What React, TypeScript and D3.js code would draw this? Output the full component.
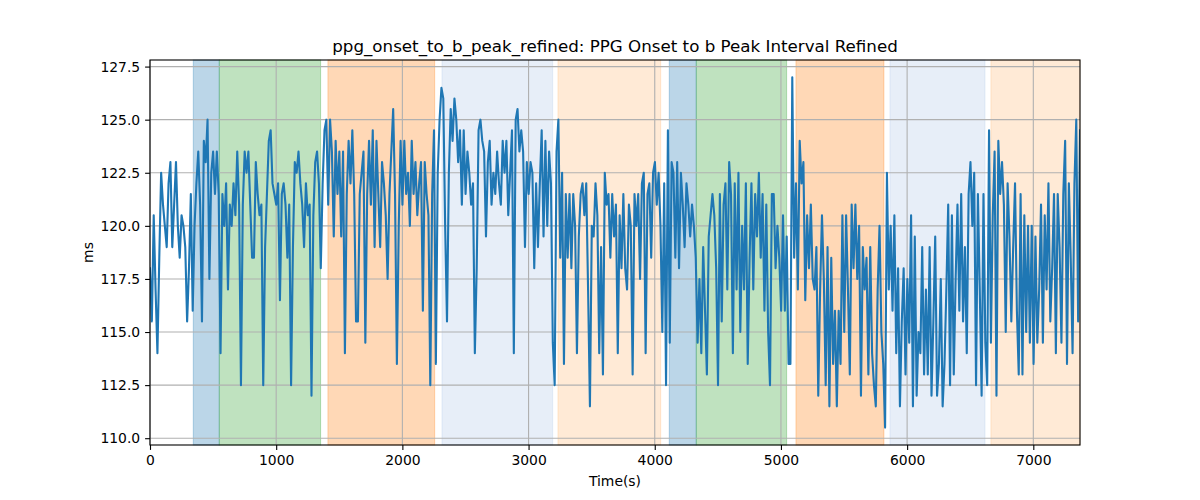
import { useEffect, useRef } from 'react';
import * as d3 from 'd3';

// refined onset -> b peak interval, one value every SAMPLE_STEP seconds
const SAMPLE_STEP = 7370 / 501;

const intervalMs: number[] = [
  // 0 - 820
  118, 115.5, 120.5, 117, 114, 118.5, 122.5, 121, 120, 119, 122, 123, 119, 121, 123, 120, 118.5, 120.5, 120, 119,
  115.5, 118, 121.5, 116, 120, 122, 123.5, 121, 115.5, 124, 123, 125, 117.5, 122.5, 123.5, 121.5, 123.5, 121.5, 114, 121.5,
  120, 122, 117, 121, 120, 122, 120.5, 123.5, 121, 112.5, 121, 123.5, 122.5, 123.5, 121, 118.5,
  // 820 - 1650
  118.5, 123, 121.5, 120.5, 121, 112.5, 119, 121.5, 124, 124.5, 122, 121.5, 121, 122, 116.5, 121.5, 122, 121, 118.5, 121,
  112.5, 119, 123, 122.5, 123.5, 122, 121, 119, 122, 120.5, 121, 112, 120.5, 123, 123.5, 122, 118, 122, 124.5, 125,
  121, 125, 123.5, 119.5, 124, 121.5, 123.5, 119.5, 123.5, 114, 121.5, 124, 122, 124.5, 121.5, 115.5,
  // 1650 - 2470
  115.5, 121.5, 122.5, 123.5, 114.5, 121.5, 124, 121, 124.5, 119, 124, 121.5, 119, 123, 122, 120.5, 117.5, 121.5, 123.5, 125.5,
  121.5, 113.5, 120, 124, 121, 124, 121.5, 122.5, 120, 124, 121.5, 123, 120.5, 122, 123, 116, 123, 121.5, 120.5, 112.5,
  121.5, 124.5, 113.5, 122.5, 125, 126.5, 126, 120, 115.5, 122.5, 125.5, 124, 126, 125, 123, 124.5,
  // 2470 - 3290
  121, 124.5, 121.5, 123.5, 122.5, 121, 122, 114, 118, 124.5, 125, 124, 123.5, 119.5, 123, 124, 121, 122.5, 121.5, 123.5,
  122, 121, 124, 122.5, 124, 120.5, 122.5, 124.5, 114, 125, 125.5, 123.5, 124.5, 123.5, 119, 123, 121.5, 123, 122.5, 118,
  122, 119, 122, 124.5, 119.5, 124, 120, 123.5, 122, 114.5, 112.5, 123.5, 125, 118.5, 122.5, 113.5,
  // 3290 - 4110
  121.5, 118.5, 121.5, 118, 121.5, 120, 114, 119.5, 121.5, 122, 120.5, 122, 117, 111.5, 120, 119.5, 122, 120.5, 114, 119,
  113, 122.5, 121, 121.5, 118.5, 121.5, 119.5, 121, 114, 120.5, 118, 121.5, 118, 117, 121, 120, 113, 121.5, 120, 121.5,
  117.5, 122, 122.5, 114, 121.5, 122, 118.5, 122.5, 123, 121, 122.5, 120, 115, 122, 112.5, 124.5,
  // 4110 - 4940
  114.5, 123, 122.5, 118.5, 123, 118, 122.5, 121, 119, 122, 121, 119.5, 121, 120, 118.5, 114.5, 117.5, 114, 119, 116,
  113, 119.5, 120.5, 121.5, 120.5, 118, 112.5, 121.5, 115.5, 121, 122, 117, 123, 121.5, 114, 122, 117, 122.5, 115, 120,
  117, 122, 113.5, 118.5, 122, 117, 121.5, 119.5, 122.5, 118.5, 121.5, 116, 121, 115, 112.5, 121.5,
  // 4940 - 5760
  121.5, 118, 120, 118.5, 116, 120.5, 116, 119.5, 113.5, 113.5, 127, 118.5, 122, 117, 124, 122, 123, 116.5, 120.5, 118,
  121, 117.5, 117, 119, 112, 117, 120.5, 117.5, 112.5, 119, 111.5, 118.5, 113.5, 116, 111.5, 116, 113.5, 120.5, 115, 120.5,
  117, 113, 121, 118, 121, 117.5, 120, 112, 119, 117, 118.5, 113, 119, 114, 112.5, 111.5,
  // 5760 - 6590
  117, 120, 115, 113.5, 110.5, 122.5, 117, 120, 116, 120.5, 114, 118, 111.5, 115.5, 118, 113, 117.5, 114.5, 120.5, 111.5,
  119.5, 112, 115, 114, 119, 113, 117, 113, 119, 112, 115.5, 119.5, 112, 113.5, 117.5, 111.5, 113.5, 117, 121, 112.5,
  120.5, 113, 117.5, 121, 116, 121.5, 115.5, 119, 114, 121.5, 123, 120, 122.5, 112.5, 121.5, 117,
  // 6590 - 7370
  112, 121.5, 114.5, 112.5, 124.5, 114.5, 120.5, 123.5, 112, 124, 121.5, 123, 121, 115, 122, 119.5, 115.5, 119, 122, 116,
  113, 121.5, 113, 120.5, 115, 120, 114.5, 120, 113.5, 119.5, 114.5, 117, 121, 114.5, 120.5, 117, 122, 115.5, 118, 121.5,
  114, 121.5, 119, 114.5, 121.5, 124, 113.5, 122, 118.5, 114, 122, 125, 115.5, 124.5,
];

// shaded phases: [start, end] in seconds
const phaseStarts = [343, 549, 1410, 2314, 3233, 4115, 4329, 5119, 5864, 6664];
const phaseEnds = [549, 1352, 2256, 3191, 4047, 4329, 5045, 5816, 6617, 7370];
const phaseColors = ['#1f77b4', '#2ca02c', '#ff7f0e', '#aec7e8', '#ffbb78', '#1f77b4', '#2ca02c', '#ff7f0e', '#aec7e8', '#ffbb78'];

const xTicks = [0, 1000, 2000, 3000, 4000, 5000, 6000, 7000];
const yTicks = [110, 112.5, 115, 117.5, 120, 122.5, 125, 127.5];

export default function App() {
  const ref = useRef<SVGSVGElement | null>(null);

  useEffect(() => {
    if (!ref.current) return;

    const svg = d3.select(ref.current);
    svg.selectAll('*').remove();

    const width = 1200;
    const height = 500;
    const margin = { top: 60, right: 120, bottom: 55, left: 150 };
    const innerWidth = width - margin.left - margin.right;
    const innerHeight = height - margin.top - margin.bottom;
    const font = 'DejaVu Sans, sans-serif';

    const data = intervalMs.map((v, i) => ({ t: i * SAMPLE_STEP, v }));

    const x = d3.scaleLinear().domain([0, 7370]).range([0, innerWidth]);
    const y = d3.scaleLinear().domain([109.68, 127.81]).range([innerHeight, 0]);

    svg.attr('width', width).attr('height', height);
    svg.append('rect').attr('width', width).attr('height', height).attr('fill', '#fff');

    const g = svg.append('g').attr('transform', `translate(${margin.left},${margin.top})`);

    g.selectAll('rect.phase')
      .data(phaseStarts)
      .enter()
      .append('rect')
      .attr('class', 'phase')
      .attr('x', (d) => x(d))
      .attr('y', 0)
      .attr('width', (d, i) => x(phaseEnds[i]) - x(d))
      .attr('height', innerHeight)
      .attr('fill', (_, i) => phaseColors[i])
      .attr('fill-opacity', 0.3)
      .attr('stroke', (_, i) => phaseColors[i])
      .attr('stroke-opacity', 0.3)
      .attr('stroke-width', 1);

    // grid
    g.selectAll('line.gx')
      .data(xTicks)
      .enter()
      .append('line')
      .attr('x1', (d) => x(d))
      .attr('x2', (d) => x(d))
      .attr('y1', 0)
      .attr('y2', innerHeight)
      .attr('stroke', '#b0b0b0')
      .attr('stroke-width', 1.1);

    g.selectAll('line.gy')
      .data(yTicks)
      .enter()
      .append('line')
      .attr('x1', 0)
      .attr('x2', innerWidth)
      .attr('y1', (d) => y(d))
      .attr('y2', (d) => y(d))
      .attr('stroke', '#b0b0b0')
      .attr('stroke-width', 1.1);

    const clip = svg.append('clipPath').attr('id', 'plot-clip');
    clip.append('rect').attr('width', innerWidth).attr('height', innerHeight);

    const line = d3
      .line<{ t: number; v: number }>()
      .x((d) => x(d.t))
      .y((d) => y(d.v));

    g.append('path')
      .datum(data)
      .attr('clip-path', 'url(#plot-clip)')
      .attr('fill', 'none')
      .attr('stroke', '#1f77b4')
      .attr('stroke-width', 2.1)
      .attr('stroke-linejoin', 'round')
      .attr('stroke-linecap', 'square')
      .attr('d', line);

    const xAxis = g
      .append('g')
      .attr('transform', `translate(0,${innerHeight})`)
      .call(d3.axisBottom(x).tickValues(xTicks).tickSize(4.9).tickPadding(4.9).tickFormat((d) => `${d}`));

    const yAxis = g
      .append('g')
      .call(d3.axisLeft(y).tickValues(yTicks).tickSize(4.9).tickPadding(4.9).tickFormat(d3.format('.1f')));

    [xAxis, yAxis].forEach((a) => {
      a.select('.domain').remove();
      a.selectAll('line').attr('stroke', '#000').attr('stroke-width', 1.1);
      a.selectAll('text').attr('fill', '#000').style('font-family', font).style('font-size', '13.9px');
    });

    g.append('rect')
      .attr('width', innerWidth)
      .attr('height', innerHeight)
      .attr('fill', 'none')
      .attr('stroke', '#000')
      .attr('stroke-width', 1.1);

    svg
      .append('text')
      .attr('x', margin.left + innerWidth / 2)
      .attr('y', 52)
      .attr('text-anchor', 'middle')
      .style('font-family', font)
      .style('font-size', '16.7px')
      .text('ppg_onset_to_b_peak_refined: PPG Onset to b Peak Interval Refined');

    svg
      .append('text')
      .attr('x', margin.left + innerWidth / 2)
      .attr('y', 486)
      .attr('text-anchor', 'middle')
      .style('font-family', font)
      .style('font-size', '13.9px')
      .text('Time(s)');

    svg
      .append('text')
      .attr('transform', `translate(93,${margin.top + innerHeight / 2}) rotate(-90)`)
      .attr('text-anchor', 'middle')
      .style('font-family', font)
      .style('font-size', '13.9px')
      .text('ms');
  }, []);

  return <svg ref={ref} style={{ position: 'absolute', left: 0, top: 0, display: 'block' }}></svg>;
}
